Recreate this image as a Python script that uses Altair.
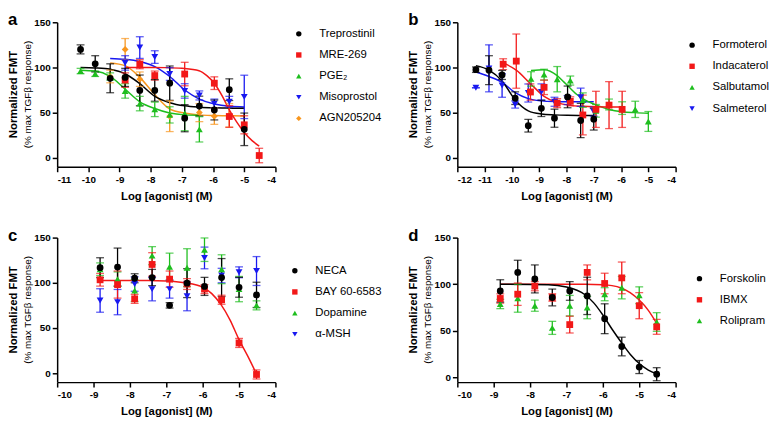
import altair as alt
import pandas as pd

FONT = "Liberation Sans"

# ---------------- panel a ----------------
A_NAMES = ["Treprostinil", "MRE-269", "PGE₂", "Misoprostol", "AGN205204"]
A_COLORS = ["#000000", "#F21818", "#1EBE1E", "#1818F0", "#F8961E"]
A_SHAPES = ["circle", "square", "triangle-up", "triangle-down", "diamond"]

A_TREP_X = [-10.25, -9.78, -9.30, -8.82, -8.35, -7.87, -7.39, -6.91, -6.44, -5.96, -5.48, -5.00]
A_TREP_Y = [120, 104, 88, 89, 74.6, 74.6, 82.6, 43.8, 57.2, 52.9, 75.4, 31.5]
A_TREP_E = [5, 9, 16, 10, 17, 12, 19, 15, 11, 11, 12, 18]
A_TREP_CX = [-10.25, -9.78, -9.30, -8.82, -8.35, -7.87, -7.39, -6.91, -6.44, -5.96, -5.48, -5.00]
A_TREP_CY = [100, 99.5, 98, 93, 82, 68, 61, 57.5, 56, 55.3, 55, 54.8]

A_MRE_X = [-8.82, -8.35, -7.87, -6.91, -5.96, -5.48, -5.00, -4.52]
A_MRE_Y = [86, 103.6, 91, 92.7, 82.6, 45.7, 36.5, 2.5]
A_MRE_E = [8, 5, 5, 13, 7, 12, 10, 8]
A_MRE_CX = [-8.82, -8.0, -7.5, -7.0, -6.45, -6.2, -5.95, -5.7, -5.48, -5.25, -5.0, -4.75, -4.52]
A_MRE_CY = [100, 100, 99.8, 99, 96.4, 91, 82, 68, 53, 40, 28, 19, 13]

A_PGE_X = [-10.25, -9.78, -9.30, -8.82, -8.35, -7.87, -7.39, -6.91, -6.44]
A_PGE_Y = [96, 93, 90, 74, 60, 53.6, 47.5, 49, 31.5]
A_PGE_E = [3, 3, 4, 8, 8, 8, 9, 19, 14]
A_PGE_CX = [-10.25, -9.78, -9.30, -8.82, -8.35, -7.87, -7.39, -6.91, -6.44]
A_PGE_CY = [97, 96, 90, 76, 62, 54.5, 49.5, 47.5, 47]

A_MISO_X = [-8.82, -8.35, -7.87, -7.39, -6.91, -6.44, -5.96, -5.48, -5.00]
A_MISO_Y = [105, 122, 111.5, 92.7, 74, 69, 60, 62, 67.4]
A_MISO_E = [8, 12, 7, 7, 8, 5, 5, 6, 24]
A_MISO_CX = [-9.30, -8.82, -8.35, -7.87, -7.39, -6.91, -6.44, -5.96, -5.48, -5.00]
A_MISO_CY = [110, 109, 106.5, 101, 90, 75, 65, 59.5, 57, 56.3]

A_AGN_X = [-9.30, -8.82, -8.35, -7.39, -6.44, -5.96, -5.48]
A_AGN_Y = [90, 120, 87, 46, 50, 46, 47]
A_AGN_E = [7, 12, 8, 17, 10, 9, 13]
A_AGN_CX = [-9.30, -8.82, -8.35, -7.87, -7.39, -6.91, -6.44, -5.96, -5.48, -5.00]
A_AGN_CY = [105, 102, 89, 70, 54, 49.5, 47.5, 46.8, 46.5, 46.3]

# ---------------- panel b ----------------
B_NAMES = ["Formoterol", "Indacaterol", "Salbutamol", "Salmeterol"]
B_COLORS = ["#000000", "#F21818", "#1EBE1E", "#1818F0"]
B_SHAPES = ["circle", "square", "triangle-up", "triangle-down"]

B_FORM_X = [-11.32, -10.84, -10.36, -9.88, -9.40, -8.92, -8.44, -7.96, -7.48, -7.00]
B_FORM_Y = [97.5, 97, 91.7, 66, 35.5, 54.7, 43.8, 67.4, 41.3, 42.7]
B_FORM_E = [3, 16, 5, 7, 7, 9, 10, 12, 19, 12]
B_FORM_CY = [102, 97, 85, 64, 52, 48.5, 47.5, 47, 46.8, 46.7]

B_INDA_X = [-10.32, -9.84, -9.32, -8.82, -8.34, -7.86, -7.40, -6.92, -6.44, -5.96]
B_INDA_Y = [103.6, 107, 72.8, 78, 60.5, 62.5, 47.4, 53.6, 58.3, 53.6]
B_INDA_E = [6, 30, 9, 8, 5, 5, 22, 20, 26, 20]
B_INDA_CY = [105, 97, 82, 68, 61, 58, 57, 56.5, 56.3, 56.2]

B_SALB_X = [-9.30, -8.82, -8.34, -7.86, -7.40, -6.92, -6.44, -5.96, -5.48, -5.00]
B_SALB_Y = [87.3, 92, 87, 85.5, 63.8, 52, 59, 55, 53.6, 40.2]
B_SALB_E = [8, 6, 14, 5, 8, 7, 6, 7, 9, 11]
B_SALB_CX = [-9.30, -8.82, -8.34, -8.10, -7.86, -7.62, -7.40, -6.92, -6.44, -5.96, -5.48, -5.00]
B_SALB_CY = [96.5, 97.5, 91, 84, 77, 70, 65.5, 58.5, 53.5, 51, 50, 49.3]

B_SALM_X = [-11.32, -10.84, -10.36, -9.88, -9.40, -8.92, -8.44, -7.96, -7.48, -7.00]
B_SALM_Y = [77.5, 99, 80, 59, 71.7, 72.8, 62, 63.8, 67, 51]
B_SALM_E = [0, 26, 13, 4, 10, 9, 5, 5, 10, 5]
B_SALM_CY = [95, 90, 83.5, 72, 65.5, 63, 62.2, 62, 62, 62]

# ---------------- panel c ----------------
C_NAMES = ["NECA", "BAY 60-6583", "Dopamine", "α-MSH"]
C_COLORS = ["#000000", "#F21818", "#1EBE1E", "#1818F0"]
C_SHAPES = ["circle", "square", "triangle-up", "triangle-down"]

C_X = [-8.82, -8.34, -7.87, -7.39, -6.91, -6.43, -5.95, -5.48, -5.00, -4.52]
C_NECA_Y = [116.7, 117.4, 105, 105.8, 75, 99.6, 96, 105.8, 95, 86.6]
C_NECA_E = [11, 21, 5, 9, 3, 16, 10, 21, 11, 14]
C_BAY_Y = [103.3, 98, 82.2, 120.3, 104, 98.6, 93, 81.2, 33.4, -1.5]
C_BAY_E = [7, 15, 5, 13, 9, 6, 5, 5, 5, 5]
C_DOPA_Y = [115, 104, 91.3, 130, 117.8, 116.7, 136.6, 115, 93, 75]
C_DOPA_E = [7, 8, 12, 10, 15, 21, 13, 16, 14, 5]
C_MSH_Y = [80.4, 78.6, 98.6, 93, 93, 85, 127.5, 108, 111.6, 113]
C_MSH_E = [13, 14, 8, 13, 10, 16, 12, 8, 6, 16]
C_BAY_CX = [-8.82, -7.5, -7.0, -6.5, -6.0, -5.75, -5.5, -5.25, -5.0, -4.75, -4.52]
C_BAY_CY = [102.5, 102.5, 102, 100, 95, 88, 76, 59, 37, 18, -1]

# ---------------- panel d ----------------
D_NAMES = ["Forskolin", "IBMX", "Rolipram"]
D_COLORS = ["#000000", "#F21818", "#1EBE1E"]
D_SHAPES = ["circle", "square", "triangle-up"]

D_X = [-8.82, -8.34, -7.87, -7.39, -6.91, -6.43, -5.95, -5.48, -5.00, -4.52]
D_FORS_Y = [92.8, 112.7, 105.7, 85.8, 92.8, 87.5, 63, 33.2, 11.2, 3.5]
D_FORS_E = [12, 13, 15, 9, 10, 20, 16, 10, 7, 7]
D_IBMX_Y = [84.7, 89.3, 98, 85.8, 56.7, 112.7, 100.8, 106.8, 77, 54.3]
D_IBMX_E = [5, 12, 5, 4, 9, 8, 11, 17, 14, 8]
D_ROLI_Y = [78.8, 85, 77, 53.2, 77, 75, 89.3, 96.3, 88.2, 59.5]
D_ROLI_E = [5, 15, 6, 7, 11, 12, 7, 12, 9, 10]
D_FORS_CX = [-8.82, -7.5, -7.0, -6.5, -6.25, -6.0, -5.75, -5.5, -5.25, -5.0, -4.75, -4.52]
D_FORS_CY = [100, 99.5, 97, 89, 80, 67, 52, 38, 25, 15, 8, 4]
D_IBMX_CX = [-8.82, -6.5, -6.0, -5.75, -5.5, -5.25, -5.0, -4.75, -4.52]
D_IBMX_CY = [100, 100, 99.5, 98.5, 96, 91, 83, 72, 58]

Y_TICKS = [0, 50, 100, 150]
X_TITLE = "Log [agonist] (M)"
Y_TITLE_1 = "Normalized FMT"
Y_TITLE_2 = "(% max TGFβ response)"

W, H = 222, 147


def pts(name, color, xs, ys, es):
    return pd.DataFrame({
        "s": name, "c": color, "x": xs, "y": ys,
        "lo": [y - e for y, e in zip(ys, es)],
        "hi": [y + e for y, e in zip(ys, es)],
    })


def crv(name, color, xs, ys):
    return pd.DataFrame({"s": name, "c": color, "x": xs, "y": ys})


def panel(names, colors, shapes, point_list, curve_list, xdom, xticks, ydom,
          letter, lx, ly):
    pdf = pd.concat(point_list[::-1], ignore_index=True)
    cdf = pd.concat(curve_list[::-1], ignore_index=True)
    xs = alt.Scale(domain=xdom, nice=False, zero=False)
    ys = alt.Scale(domain=ydom, nice=False, zero=False)
    xaxis = alt.Axis(values=xticks, title=X_TITLE, labelExpr="'' + datum.value",
                     labelPadding=3, titlePadding=6)
    yaxis = alt.Axis(values=Y_TICKS, title=None, labelPadding=2)
    X = alt.X("x:Q", scale=xs, axis=xaxis)
    stroke_raw = alt.Stroke("c:N", scale=None)
    fill_raw = alt.Fill("c:N", scale=None)
    leg = alt.Legend(title=None, orient="none", legendX=lx, legendY=ly)

    lines = alt.Chart(cdf).mark_line(interpolate="monotone", strokeWidth=1.5).encode(
        x=X, y=alt.Y("y:Q", scale=ys, axis=yaxis), stroke=stroke_raw, detail="s:N")
    bars = alt.Chart(pdf).mark_rule(strokeWidth=1.3).encode(
        x=X, y=alt.Y("lo:Q", scale=ys, axis=yaxis), y2="hi:Q", stroke=stroke_raw)
    cap_lo = alt.Chart(pdf).mark_tick(orient="horizontal", size=8, thickness=1.3).encode(
        x=X, y=alt.Y("lo:Q", scale=ys, axis=yaxis), fill=fill_raw)
    cap_hi = alt.Chart(pdf).mark_tick(orient="horizontal", size=8, thickness=1.3).encode(
        x=X, y=alt.Y("hi:Q", scale=ys, axis=yaxis), fill=fill_raw)
    dots = alt.Chart(pdf).mark_point(filled=True, size=48, opacity=1).encode(
        x=X, y=alt.Y("y:Q", scale=ys, axis=yaxis),
        color=alt.Color("s:N", scale=alt.Scale(domain=names, range=colors), legend=leg),
        shape=alt.Shape("s:N", scale=alt.Scale(domain=names, range=shapes), legend=leg))

    t_letter = alt.Chart(pd.DataFrame({"t": [letter]})).mark_text(
        font=FONT, fontSize=17, fontWeight="bold", align="left", baseline="alphabetic",
        color="black").encode(text="t:N", x=alt.value(-50), y=alt.value(3))
    t_y1 = alt.Chart(pd.DataFrame({"t": [Y_TITLE_1]})).mark_text(
        font=FONT, fontSize=11.5, fontWeight="bold", angle=270, align="center",
        baseline="middle", color="black").encode(text="t:N", x=alt.value(-44), y=alt.value(H / 2))
    t_y2 = alt.Chart(pd.DataFrame({"t": [Y_TITLE_2]})).mark_text(
        font=FONT, fontSize=10, angle=270, align="center",
        baseline="middle", color="black").encode(text="t:N", x=alt.value(-30), y=alt.value(H / 2))

    return alt.layer(lines, bars, cap_lo, cap_hi, dots, t_letter, t_y1, t_y2).properties(
        width=W, height=H)


def series(names, colors, xs_list, ys_list, es_list):
    return [pts(n, c, x, y, e) for n, c, x, y, e in zip(names, colors, xs_list, ys_list, es_list)]


pa = panel(A_NAMES, A_COLORS, A_SHAPES,
           series(A_NAMES, A_COLORS,
                  [A_TREP_X, A_MRE_X, A_PGE_X, A_MISO_X, A_AGN_X],
                  [A_TREP_Y, A_MRE_Y, A_PGE_Y, A_MISO_Y, A_AGN_Y],
                  [A_TREP_E, A_MRE_E, A_PGE_E, A_MISO_E, A_AGN_E]),
           [crv(A_NAMES[0], A_COLORS[0], A_TREP_CX, A_TREP_CY),
            crv(A_NAMES[1], A_COLORS[1], A_MRE_CX, A_MRE_CY),
            crv(A_NAMES[2], A_COLORS[2], A_PGE_CX, A_PGE_CY),
            crv(A_NAMES[3], A_COLORS[3], A_MISO_CX, A_MISO_CY),
            crv(A_NAMES[4], A_COLORS[4], A_AGN_CX, A_AGN_CY)],
           [-11, -4], list(range(-11, -3)), [-10, 150], "a", 240, 6)

pb = panel(B_NAMES, B_COLORS, B_SHAPES,
           series(B_NAMES, B_COLORS,
                  [B_FORM_X, B_INDA_X, B_SALB_X, B_SALM_X],
                  [B_FORM_Y, B_INDA_Y, B_SALB_Y, B_SALM_Y],
                  [B_FORM_E, B_INDA_E, B_SALB_E, B_SALM_E]),
           [crv(B_NAMES[0], B_COLORS[0], B_FORM_X, B_FORM_CY),
            crv(B_NAMES[1], B_COLORS[1], B_INDA_X, B_INDA_CY),
            crv(B_NAMES[2], B_COLORS[2], B_SALB_CX, B_SALB_CY),
            crv(B_NAMES[3], B_COLORS[3], B_SALM_X, B_SALM_CY)],
           [-12, -4], list(range(-12, -3)), [-10, 150], "b", 233, 17.5)

pc = panel(C_NAMES, C_COLORS, C_SHAPES,
           series(C_NAMES, C_COLORS,
                  [C_X, C_X, C_X, C_X],
                  [C_NECA_Y, C_BAY_Y, C_DOPA_Y, C_MSH_Y],
                  [C_NECA_E, C_BAY_E, C_DOPA_E, C_MSH_E]),
           [crv(C_NAMES[1], C_COLORS[1], C_BAY_CX, C_BAY_CY)],
           [-10, -4], list(range(-10, -3)), [-10, 150], "c", 236, 28)

pd_ = panel(D_NAMES, D_COLORS, D_SHAPES,
            series(D_NAMES, D_COLORS,
                   [D_X, D_X, D_X],
                   [D_FORS_Y, D_IBMX_Y, D_ROLI_Y],
                   [D_FORS_E, D_IBMX_E, D_ROLI_E]),
            [crv(D_NAMES[0], D_COLORS[0], D_FORS_CX, D_FORS_CY),
             crv(D_NAMES[1], D_COLORS[1], D_IBMX_CX, D_IBMX_CY)],
            [-10, -4], list(range(-10, -3)), [-5, 150], "d", 240.5, 36)

chart = alt.concat(pa, pb, pc, pd_, columns=2, spacing={"row": 72, "column": 185},
                   bounds="flush").resolve_scale(
    color="independent", shape="independent"
).resolve_legend(
    color="independent", shape="independent"
).properties(padding=0).configure_view(
    stroke=None
).configure_axis(
    domainColor="black", domainWidth=1.5, tickColor="black", tickWidth=1.5, tickSize=5,
    labelFont=FONT, labelFontSize=10, labelFontWeight="bold", labelColor="black",
    titleFont=FONT, titleFontSize=11.5, titleFontWeight="bold", titleColor="black",
    grid=False
).configure_legend(
    labelFont=FONT, labelFontSize=11.5, labelColor="black", symbolSize=30,
    rowPadding=8.5, labelOffset=15, padding=0
)

chart.save("out.html", embed_options={"renderer": "svg", "actions": False})
